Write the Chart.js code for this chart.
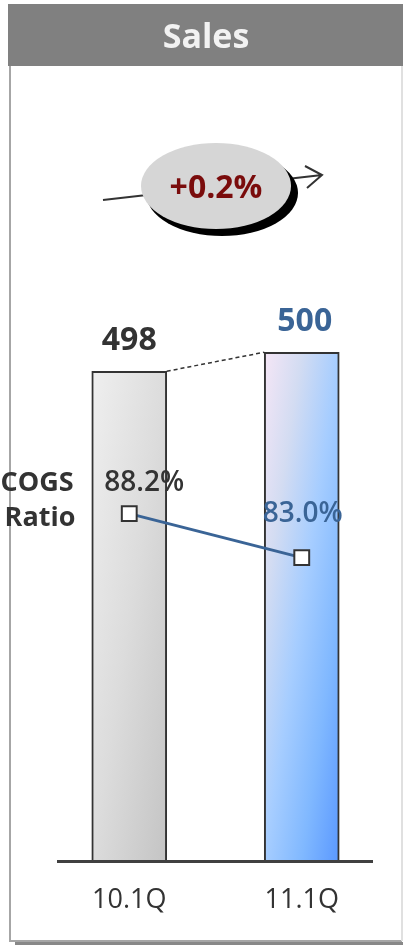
<!DOCTYPE html>
<html>
<head>
<meta charset="utf-8">
<script src="https://cdn.jsdelivr.net/npm/chart.js@4"></script>
<style>
  html, body { margin: 0; padding: 0; background: #fff; }
  #wrap { position: relative; width: 403px; height: 945px; }
</style>
</head>
<body>
<div id="wrap"><canvas id="sales-chart" width="403" height="945"></canvas></div>
<script>
const quarters = ["10.1Q", "11.1Q"];
const salesValues = [498, 500];
const cogsRatio = [88.2, 83.0];
const growthLabel = "+0.2%";
const panelTitle = "Sales";

const FONT = "'Open Sans', 'Noto Sans', sans-serif";
const DARK = "#333333";
const BLUE = "#3a6496";
const BAR_W = 75;

// diagonal gradient from the top-left to the bottom-right corner of a bar,
// with the other two corners sharing the middle colour
function barFill(context) {
  const chart = context.chart;
  if (!chart.chartArea) return "#ddd";
  const i = context.dataIndex;
  const ctx = chart.ctx;
  const left = chart.scales.x.getPixelForValue(i) - BAR_W / 2;
  const top = chart.scales.y.getPixelForValue(salesValues[i]);
  const w = BAR_W;
  const h = chart.scales.y.bottom - top;
  const s = (2 * w * h) / (h * h + w * w);
  const g = ctx.createLinearGradient(left, top, left + s * h, top + s * w);
  if (i === 0) {
    g.addColorStop(0, "#efefef");
    g.addColorStop(0.5, "#dcdcdc");
    g.addColorStop(1, "#c4c4c4");
  } else {
    g.addColorStop(0, "#f5e6f6");
    g.addColorStop(0.25, "#d3dcf2");
    g.addColorStop(0.5, "#a6cdff");
    g.addColorStop(0.75, "#80b8ff");
    g.addColorStop(1, "#5a98ff");
  }
  return g;
}

// frame, header, growth bubble and the text labels
const decorations = {
  id: "decorations",
  beforeDraw(chart) {
    const ctx = chart.ctx;
    ctx.save();
    ctx.fillStyle = "#fff";
    ctx.fillRect(0, 0, chart.width, chart.height);
    // header
    ctx.fillStyle = "#808080";
    ctx.fillRect(8, 4, 395, 62);
    ctx.fillStyle = "#f2f2f2";
    ctx.font = "bold 34px " + FONT;
    ctx.textAlign = "center";
    ctx.textBaseline = "middle";
    ctx.fillText(panelTitle, 206, 38);
    // panel border
    ctx.strokeStyle = "#a6a6a6";
    ctx.lineWidth = 2;
    ctx.beginPath();
    ctx.moveTo(10, 66);
    ctx.lineTo(10, 941);
    ctx.lineTo(402, 941);
    ctx.stroke();
    ctx.strokeStyle = "#e0e0e0";
    ctx.beginPath();
    ctx.moveTo(402, 66);
    ctx.lineTo(402, 941);
    ctx.stroke();
    ctx.fillStyle = "#888";
    ctx.fillRect(15, 942, 388, 3);
    ctx.restore();
  },
  afterDatasetsDraw(chart) {
    const ctx = chart.ctx;
    const ys = chart.scales.y;
    const yr = chart.scales.y2;
    const bars = chart.getDatasetMeta(1).data;
    ctx.save();

    // dashed link between bar tops
    const b0 = bars[0], b1 = bars[1];
    ctx.strokeStyle = DARK;
    ctx.lineWidth = 1.5;
    ctx.setLineDash([4, 3]);
    ctx.beginPath();
    ctx.moveTo(b0.x + b0.width / 2, b0.y);
    ctx.lineTo(b1.x - b1.width / 2, b1.y);
    ctx.stroke();
    ctx.setLineDash([]);

    // baseline
    ctx.strokeStyle = "#404040";
    ctx.lineWidth = 3;
    ctx.beginPath();
    ctx.moveTo(57, ys.bottom);
    ctx.lineTo(373, ys.bottom);
    ctx.stroke();

    // sales value labels
    ctx.textAlign = "center";
    ctx.textBaseline = "middle";
    ctx.font = "bold 32px " + FONT;
    ctx.fillStyle = DARK;
    ctx.fillText(String(salesValues[0]), b0.x, b0.y - 30);
    ctx.fillStyle = BLUE;
    ctx.fillText(String(salesValues[1]), b1.x + 3, b1.y - 30);

    // ratio labels
    ctx.font = "600 28px " + FONT;
    ctx.fillStyle = DARK;
    ctx.fillText(cogsRatio[0].toFixed(1) + "%", b0.x + 15, yr.getPixelForValue(cogsRatio[0]) - 31);
    ctx.fillStyle = BLUE;
    ctx.fillText(cogsRatio[1].toFixed(1) + "%", b1.x + 1, yr.getPixelForValue(cogsRatio[1]) - 44);

    ctx.font = "bold 27px " + FONT;
    ctx.fillStyle = DARK;
    ctx.fillText("COGS", 37, 483);
    ctx.fillText("Ratio", 40, 518);

    // growth arrow behind the bubble
    ctx.strokeStyle = "#333";
    ctx.lineWidth = 2;
    ctx.beginPath();
    ctx.moveTo(103, 200);
    ctx.lineTo(322, 175);
    ctx.moveTo(305, 166);
    ctx.lineTo(322, 175);
    ctx.lineTo(307, 188);
    ctx.stroke();

    ctx.fillStyle = "#000";
    ctx.beginPath();
    ctx.ellipse(222, 193, 76, 43, 0, 0, Math.PI * 2);
    ctx.fill();
    ctx.fillStyle = "#d6d6d6";
    ctx.beginPath();
    ctx.ellipse(216, 186, 75, 43, 0, 0, Math.PI * 2);
    ctx.fill();
    ctx.fillStyle = "#7a0c0c";
    ctx.font = "bold 32px " + FONT;
    ctx.fillText(growthLabel, 216, 189);

    ctx.restore();
  }
};

const config = {
  data: {
    labels: quarters,
    datasets: [
      {
        type: "line",
        label: "COGS Ratio",
        data: cogsRatio,
        yAxisID: "y2",
        borderColor: BLUE,
        borderWidth: 3,
        pointStyle: "rect",
        pointRadius: 10.5,
        pointBackgroundColor: "#fff",
        pointBorderColor: DARK,
        pointBorderWidth: 2,
        order: 0
      },
      {
        type: "bar",
        label: "Sales",
        data: salesValues,
        yAxisID: "y",
        backgroundColor: barFill,
        borderColor: "#333333",
        borderWidth: 2,
        borderSkipped: "bottom",
        barThickness: BAR_W,
        order: 1
      }
    ]
  },
  options: {
    responsive: false,
    animation: false,
    layout: { padding: { left: 43, right: 15, top: 70, bottom: 5 } },
    plugins: {
      legend: { display: false },
      tooltip: { enabled: false }
    },
    scales: {
      x: {
        grid: { display: false, drawTicks: false },
        border: { display: false },
        ticks: {
          color: DARK,
          font: { family: FONT, size: 27 },
          padding: 23
        }
      },
      y: {
        display: false,
        min: 446.4,
        max: 529.7
      },
      y2: {
        display: false,
        min: 47.1,
        max: 140.6
      }
    }
  },
  plugins: [decorations]
};

new Chart(document.querySelector("#sales-chart"), config);
</script>
</body>
</html>
